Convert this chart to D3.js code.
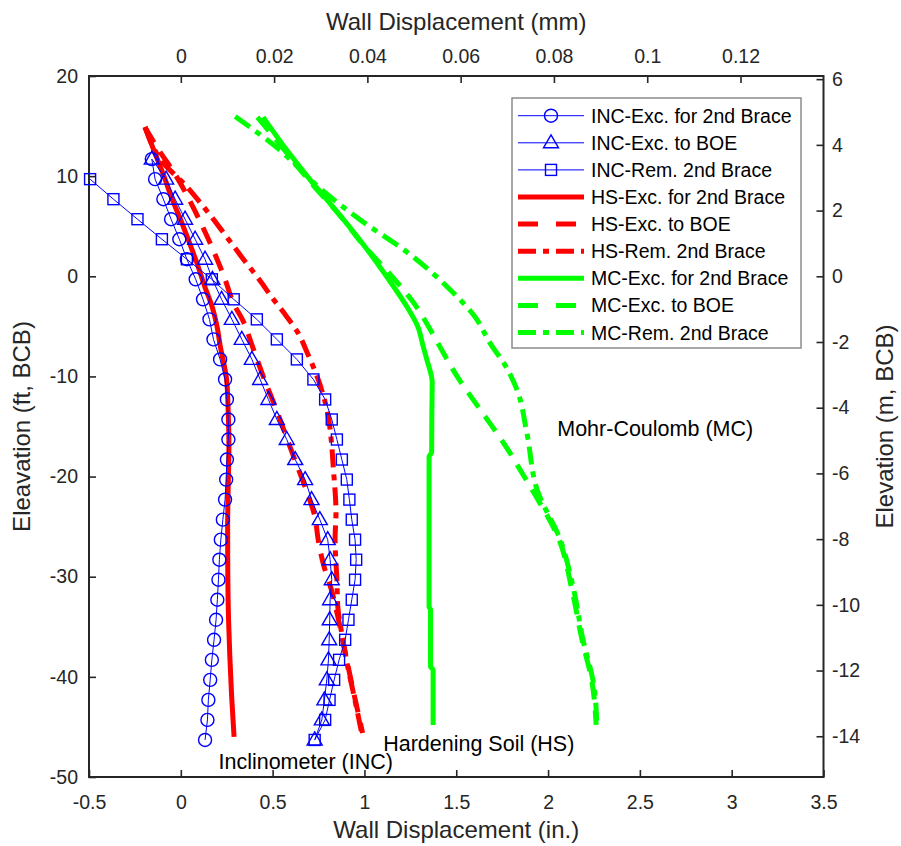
<!DOCTYPE html>
<html>
<head>
<meta charset="utf-8">
<script src="https://cdn.jsdelivr.net/npm/d3@7"></script>
<style>
  html, body { margin: 0; padding: 0; background: #fff; }
  svg { display: block; font-family: "Liberation Sans", Arial, Helvetica, sans-serif; }
</style>
</head>
<body>
<svg id="chart" width="901" height="846"></svg>
<script>
// ---------------- axis definitions ----------------
const xDomainIn = [-0.5, 3.5];
const yDomainFt = [-50, 20];
const xTicksIn = [-0.5, 0, 0.5, 1, 1.5, 2, 2.5, 3, 3.5];
const xTicksTop = [0, 0.02, 0.04, 0.06, 0.08, 0.1, 0.12];
const yTicksFt = [-50, -40, -30, -20, -10, 0, 10, 20];
const yTicksM = [-14, -12, -10, -8, -6, -4, -2, 0, 2, 4, 6];

// ---------------- inclinometer readings (elevation ft, displacement in.) ----------------
const incElev = [11.7, 9.7, 7.7, 5.7, 3.7, 1.7, -0.3, -2.3, -4.3, -6.3, -8.3, -10.3, -12.3, -14.3, -16.3,
                 -18.3, -20.3, -22.3, -24.3, -26.3, -28.3, -30.3, -32.3, -34.3, -36.3, -38.3, -40.3, -42.3, -44.3, -46.3];
const incExcBrace = [-0.158, -0.140, -0.095, -0.053, -0.008, 0.033, 0.081, 0.121, 0.156, 0.178, 0.214, 0.241, 0.251, 0.259, 0.259,
                     0.251, 0.247, 0.241, 0.229, 0.218, 0.210, 0.205, 0.199, 0.192, 0.181, 0.169, 0.160, 0.150, 0.145, 0.132];
const incExcBOE = [-0.158, -0.080, -0.031, 0.023, 0.078, 0.132, 0.172, 0.222, 0.278, 0.332, 0.387, 0.432, 0.477, 0.523, 0.577,
                   0.623, 0.677, 0.712, 0.757, 0.800, 0.813, 0.822, 0.813, 0.811, 0.808, 0.804, 0.795, 0.782, 0.768, 0.729];
const incRemElev = [9.7, 7.7, 5.7, 3.7, 1.7, -0.3, -2.3, -4.3, -6.3, -8.3, -10.3, -12.3, -14.3, -16.3,
                    -18.3, -20.3, -22.3, -24.3, -26.3, -28.3, -30.3, -32.3, -34.3, -36.3, -38.3, -40.3, -42.3, -44.3, -46.3];
const incRem = [-0.494, -0.367, -0.236, -0.103, 0.033, 0.169, 0.288, 0.414, 0.523, 0.632, 0.722, 0.786, 0.822, 0.850,
                0.877, 0.904, 0.918, 0.931, 0.949, 0.955, 0.949, 0.931, 0.913, 0.895, 0.862, 0.835, 0.810, 0.786, 0.729];

// ---------------- Hardening Soil model ----------------
const hsBraceFt = [14.9, 12.5, 9.9, 7.5, 5.6, 3.3, 1.3, -1.0, -3.0, -5.0, -7.0, -10.4, -13.5, -17.0, -21.0, -25.0, -30.0, -34.3, -38.0, -42.0, -46.0];
const hsBraceIn = [-0.195, -0.145, -0.090, -0.043, 0.0, 0.048, 0.088, 0.130, 0.170, 0.197, 0.215, 0.250, 0.258, 0.262, 0.258, 0.255, 0.256, 0.260, 0.267, 0.277, 0.290];
const hsBOEFt = [14.9, 12.9, 10.0, 6.6, 3.3, 0.0, -3.0, -4.3, -7.0, -10.3, -13.3, -16.3, -19.0, -21.7, -24.0, -26.3, -29.0, -31.3, -34.4, -38.6, -42.3, -45.6];
const hsBOEIn = [-0.195, -0.130, -0.025, 0.075, 0.160, 0.235, 0.295, 0.335, 0.390, 0.455, 0.520, 0.580, 0.635, 0.690, 0.730, 0.748, 0.780, 0.820, 0.860, 0.907, 0.950, 0.990];
const hsRemFt = [14.9, 11.2, 9.2, 6.8, 4.3, 1.6, -0.4, -2.2, -3.5, -5.7, -7.7, -10.4, -13.7, -16.5, -19.0, -23.6, -26.3, -30.3, -33.0, -35.5, -38.6, -42.3, -45.6];
const hsRemIn = [-0.195, -0.090, 0.020, 0.130, 0.235, 0.345, 0.430, 0.500, 0.555, 0.640, 0.690, 0.750, 0.800, 0.820, 0.830, 0.845, 0.840, 0.850, 0.855, 0.875, 0.905, 0.948, 0.985];

// ---------------- Mohr-Coulomb model ----------------
const mcBraceFt = [15.9, 12.6, 9.5, 6.9, 3.6, 0.0, -3.0, -5.0, -7.0, -8.4, -10.6, -14.0, -17.6, -18.0, -25.0, -33.0, -33.3, -39.0, -39.3, -44.8];
const mcBraceIn = [0.448, 0.577, 0.710, 0.830, 0.976, 1.120, 1.230, 1.290, 1.320, 1.341, 1.369, 1.367, 1.366, 1.352, 1.352, 1.352, 1.360, 1.360, 1.374, 1.374];
const mcBOEFt = [15.9, 12.6, 9.3, 6.0, 3.0, 0.6, -2.7, -5.7, -7.0, -10.0, -13.3, -16.7, -20.0, -22.0, -26.3, -31.3, -36.3, -40.6, -44.8];
const mcBOEIn = [0.417, 0.565, 0.710, 0.870, 1.000, 1.120, 1.270, 1.370, 1.410, 1.505, 1.630, 1.760, 1.870, 1.935, 2.060, 2.130, 2.185, 2.240, 2.262];
const mcRemFt = [15.95, 12.6, 8.9, 5.6, 2.3, -1.4, -4.0, -6.7, -9.0, -11.3, -15.7, -21.3, -26.3, -31.3, -36.3, -40.6, -44.8];
const mcRemIn = [0.296, 0.540, 0.750, 0.980, 1.240, 1.470, 1.600, 1.685, 1.770, 1.830, 1.885, 1.940, 2.066, 2.140, 2.190, 2.247, 2.266];

// ---------------- legend + labels ----------------
const legendLabels = ["INC-Exc. for 2nd Brace", "INC-Exc. to BOE", "INC-Rem. 2nd Brace",
                      "HS-Exc. for 2nd Brace", "HS-Exc. to BOE", "HS-Rem. 2nd Brace",
                      "MC-Exc. for 2nd Brace", "MC-Exc. to BOE", "MC-Rem. 2nd Brace"];
const noteText = ["Mohr-Coulomb (MC)", "Hardening Soil (HS)", "Inclinometer (INC)"];
const noteX = [2.05, 1.102, 0.205];
const noteY = [-15.93, -47.43, -49.19];

// ---------------- drawing ----------------
const svg = d3.select("#chart");
const plot = { left: 89, right: 823.5, top: 76, bottom: 777 };
const axisColor = "#262626";
const BLUE = "#0000ff", RED = "#ff0000", GREEN = "#00ff00";
const DASH = "18,11", DASHDOT = "18,7,6,7";

const x = d3.scaleLinear().domain(xDomainIn).range([plot.left, plot.right]);
const xTop = d3.scaleLinear().domain(xDomainIn.map(v => v / 25.4)).range([plot.left, plot.right]);
const y = d3.scaleLinear().domain(yDomainFt).range([plot.bottom, plot.top]);
const yR = d3.scaleLinear().domain(yDomainFt.map(v => v * 0.3048)).range([plot.bottom, plot.top]);

svg.append("rect").attr("width", 901).attr("height", 846).attr("fill", "#fff");

function styleAxis(g) {
  g.select(".domain").remove();
  g.selectAll(".tick line").attr("stroke", axisColor).attr("stroke-width", 1.6);
  g.selectAll(".tick text").attr("fill", axisColor).style("font-size", "19.5px")
    .style("font-family", "'Liberation Sans', Arial, Helvetica, sans-serif");
}
const fmt = d => String(d);

svg.append("g").attr("transform", `translate(0,${plot.bottom})`)
  .call(d3.axisBottom(x).tickValues(xTicksIn).tickFormat(fmt).tickSizeInner(-7).tickSizeOuter(0).tickPadding(18))
  .call(styleAxis);
svg.append("g").attr("transform", `translate(0,${plot.top})`)
  .call(d3.axisTop(xTop).tickValues(xTicksTop).tickFormat(fmt).tickSizeInner(-7).tickSizeOuter(0).tickPadding(13))
  .call(styleAxis);
svg.append("g").attr("transform", `translate(${plot.left},0)`)
  .call(d3.axisLeft(y).tickValues(yTicksFt).tickFormat(fmt).tickSizeInner(-7).tickSizeOuter(0).tickPadding(11))
  .call(styleAxis);
svg.append("g").attr("transform", `translate(${plot.right},0)`)
  .call(d3.axisRight(yR).tickValues(yTicksM).tickFormat(fmt).tickSizeInner(-7).tickSizeOuter(0).tickPadding(8.5))
  .call(styleAxis);

// frame
svg.append("rect")
  .attr("x", plot.left).attr("y", plot.top)
  .attr("width", plot.right - plot.left).attr("height", plot.bottom - plot.top)
  .attr("fill", "none").attr("stroke", axisColor).attr("stroke-width", 2);

// axis titles
const titleSize = "24px";
svg.append("text").attr("x", (plot.left + plot.right) / 2).attr("y", 838)
  .attr("text-anchor", "middle").attr("fill", axisColor).style("font-size", titleSize)
  .text("Wall Displacement (in.)");
svg.append("text").attr("x", (plot.left + plot.right) / 2).attr("y", 30)
  .attr("text-anchor", "middle").attr("fill", axisColor).style("font-size", titleSize)
  .text("Wall Displacement (mm)");
svg.append("text").attr("transform", `translate(30,${(plot.top + plot.bottom) / 2}) rotate(-90)`)
  .attr("text-anchor", "middle").attr("fill", axisColor).style("font-size", titleSize)
  .text("Eleavation (ft, BCB)");
svg.append("text").attr("transform", `translate(893,${(plot.top + plot.bottom) / 2}) rotate(-90)`)
  .attr("text-anchor", "middle").attr("fill", axisColor).style("font-size", titleSize)
  .text("Elevation (m, BCB)");

// model curves
const smooth = d3.line().x(d => x(d[0])).y(d => y(d[1])).curve(d3.curveMonotoneY);
const straight = d3.line().x(d => x(d[0])).y(d => y(d[1]));
const zip = (xs, ys) => xs.map((v, i) => [v, ys[i]]);

const modelSeries = [
  { xs: mcBraceIn, ys: mcBraceFt, color: GREEN, dash: null },
  { xs: mcBOEIn, ys: mcBOEFt, color: GREEN, dash: DASH },
  { xs: mcRemIn, ys: mcRemFt, color: GREEN, dash: DASHDOT },
  { xs: hsBraceIn, ys: hsBraceFt, color: RED, dash: null },
  { xs: hsBOEIn, ys: hsBOEFt, color: RED, dash: DASH },
  { xs: hsRemIn, ys: hsRemFt, color: RED, dash: DASHDOT }
];
const gModels = svg.append("g");
modelSeries.forEach(s => {
  gModels.append("path")
    .attr("d", smooth(zip(s.xs, s.ys)))
    .attr("fill", "none").attr("stroke", s.color).attr("stroke-width", 5)
    .attr("stroke-dasharray", s.dash).attr("stroke-linejoin", "round");
});

// inclinometer readings with markers
const markerPath = {
  circle: g => g.append("circle").attr("r", 6.5),
  triangle: g => g.append("path").attr("d", "M0,-8L7.5,5L-7.5,5Z"),
  square: g => g.append("rect").attr("x", -5.5).attr("y", -5.5).attr("width", 11).attr("height", 11)
};
const incSeries = [
  { xs: incExcBrace, ys: incElev, marker: "circle" },
  { xs: incExcBOE, ys: incElev, marker: "triangle" },
  { xs: incRem, ys: incRemElev, marker: "square" }
];
const gInc = svg.append("g");
incSeries.forEach(s => {
  const pts = zip(s.xs, s.ys);
  gInc.append("path").attr("d", straight(pts))
    .attr("fill", "none").attr("stroke", BLUE).attr("stroke-width", 1);
  pts.forEach(p => {
    const m = gInc.append("g").attr("transform", `translate(${x(p[0])},${y(p[1])})`);
    markerPath[s.marker](m).attr("fill", "none").attr("stroke", BLUE).attr("stroke-width", 1.4);
  });
});

// annotations
noteText.forEach((t, i) => {
  svg.append("text").attr("x", x(noteX[i])).attr("y", y(noteY[i]))
    .attr("fill", "#000").style("font-size", "21.5px").text(t);
});

// legend
const legendStyles = [
  { color: BLUE, width: 1, dash: null, marker: "circle" },
  { color: BLUE, width: 1, dash: null, marker: "triangle" },
  { color: BLUE, width: 1, dash: null, marker: "square" },
  { color: RED, width: 5, dash: null },
  { color: RED, width: 5, dash: "20,18" },
  { color: RED, width: 5, dash: DASHDOT },
  { color: GREEN, width: 5, dash: null },
  { color: GREEN, width: 5, dash: "20,18" },
  { color: GREEN, width: 5, dash: DASHDOT }
];
const lg = svg.append("g");
lg.append("rect").attr("x", 512).attr("y", 98).attr("width", 289).attr("height", 250)
  .attr("fill", "#fff").attr("stroke", "#8c8c8c").attr("stroke-width", 1.5);
legendLabels.forEach((label, i) => {
  const st = legendStyles[i];
  const ry = 115.7 + i * 27.1;
  lg.append("line").attr("x1", 518).attr("x2", 584).attr("y1", ry).attr("y2", ry)
    .attr("stroke", st.color).attr("stroke-width", st.width).attr("stroke-dasharray", st.dash);
  if (st.marker) {
    const m = lg.append("g").attr("transform", `translate(551,${ry})`);
    markerPath[st.marker](m).attr("fill", "none").attr("stroke", BLUE).attr("stroke-width", 1.4);
  }
  lg.append("text").attr("x", 591).attr("y", ry + 7).attr("fill", "#000")
    .style("font-size", "19.5px").text(label);
});
</script>
</body>
</html>
